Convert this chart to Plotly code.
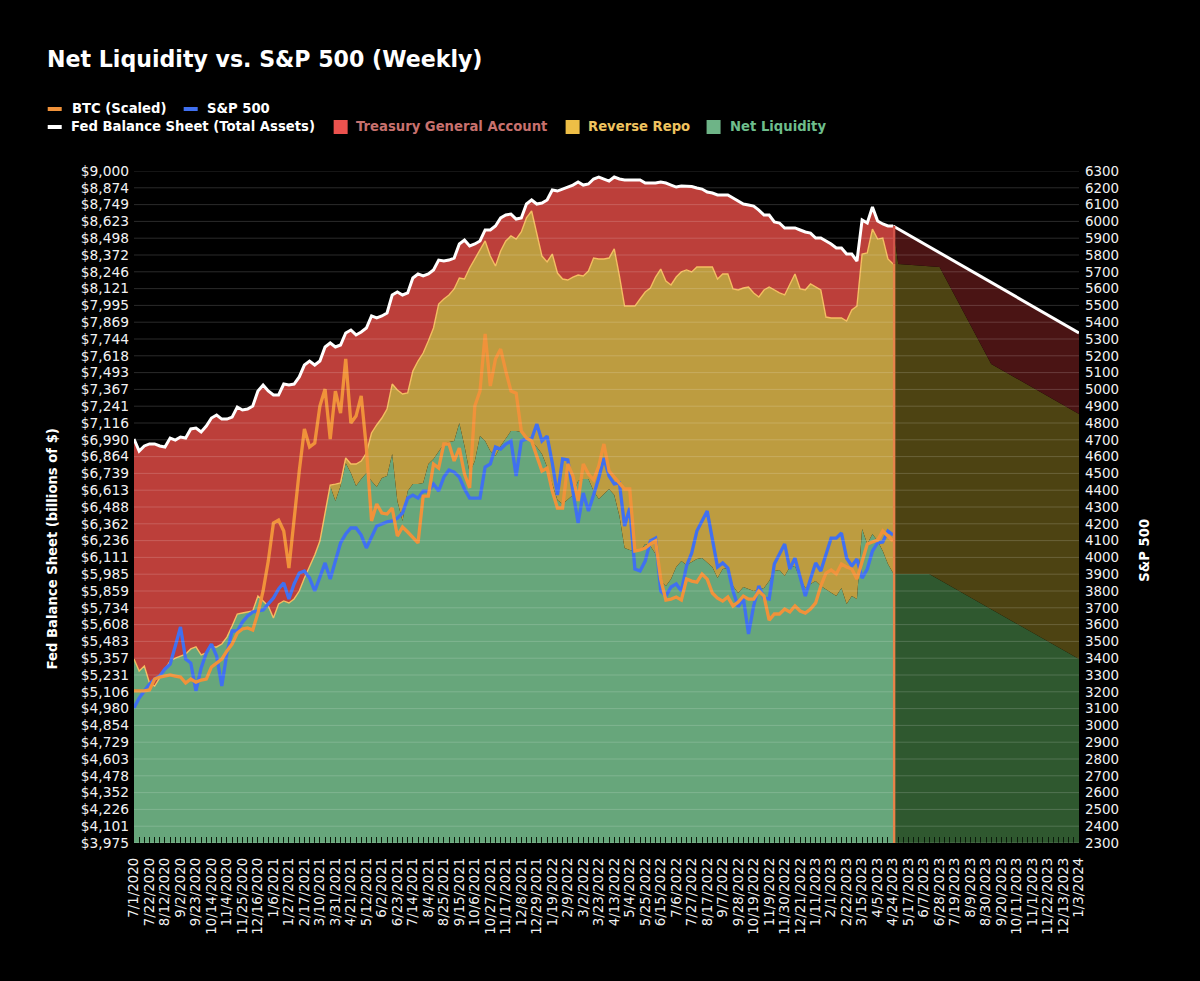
import datetime as dt
import plotly.graph_objects as go

# ---------------- data ----------------
start = dt.date(2020, 7, 1)
weeks = [start + dt.timedelta(days=7 * i) for i in range(184)]
categories = [f"{d.month}/{d.day}/{d.year}" for d in weeks]
categories[147] = "4/24/2023"

fed_assets = [
    6996,6906,6944,6959,6959,6944,6936,7003,6988,7011,
    7003,7071,7078,7048,7093,7153,7175,7145,7145,7160,
    7235,7213,7220,7243,7355,7400,7355,7325,7325,7407,
    7400,7407,7460,7549,7579,7549,7579,7684,7714,7684,
    7699,7789,7811,7774,7796,7826,7916,7901,7916,7938,
    8073,8095,8073,8088,8200,8230,8215,8230,8260,8334,
    8327,8334,8349,8454,8484,8439,8454,8477,8559,8559,
    8589,8649,8671,8678,8641,8649,8753,8783,8753,8761,
    8783,8858,8850,8865,8880,8895,8918,8895,8903,8940,
    8955,8940,8925,8955,8940,8933,8933,8933,8933,8910,
    8910,8910,8918,8910,8895,8880,8888,8888,8884,8873,
    8865,8843,8835,8821,8821,8821,8798,8776,8753,8746,
    8738,8708,8671,8671,8619,8611,8574,8574,8574,8559,
    8544,8536,8499,8499,8477,8454,8424,8424,8379,8379,
    8327,8634,8611,8731,8626,8604,8589,8589,
]
net_liquidity = [
    5351,5261,5299,5171,5149,5209,5276,5336,5358,5373,
    5388,5426,5441,5381,5396,5441,5441,5463,5515,5598,
    5687,5695,5702,5710,5822,5785,5747,5658,5762,5785,
    5770,5800,5859,5957,6046,6129,6233,6458,6645,6532,
    6645,6817,6742,6645,6697,6742,6682,6637,6704,6719,
    6884,6532,6383,6607,6660,6660,6667,6809,6847,6906,
    6959,6974,6981,7116,6944,6742,6832,7019,6981,6906,
    6869,6944,6996,7056,7056,7048,7011,6974,6936,6884,
    6787,6660,6540,6510,6547,6577,6682,6697,6697,6607,
    6547,6585,6622,6577,6420,6181,6166,6159,6159,6211,
    6196,6136,5934,5897,5949,6039,6084,6054,6076,6099,
    6106,6076,6039,5957,6024,6031,5897,5845,5889,5874,
    5859,5874,5882,5934,6009,6016,5972,6039,6046,5949,
    5882,5912,5934,5897,5874,5845,5822,5882,5762,5822,
    5800,6323,6211,6286,6233,6159,6061,5994,
]
# top edge of the Reverse Repo band (net liquidity + reverse repo)
rrp_top = net_liquidity[:38] + [
    6652,6659,
    6667,6854,6809,6809,6831,6891,7041,7101,7153,7220,
    7407,7362,7332,7340,7504,7579,7639,7729,7826,8005,
    8043,8073,8118,8200,8192,8275,8342,8402,8477,8364,
    8290,8402,8477,8514,8491,8544,8649,8701,8536,8364,
    8320,8379,8237,8192,8185,8207,8222,8215,8252,8349,
    8342,8342,8349,8417,8215,7990,7990,7990,8043,8095,
    8125,8207,8267,8177,8148,8207,8245,8260,8245,8282,
    8282,8282,8282,8192,8230,8230,8118,8110,8125,8133,
    8088,8058,8110,8133,8110,8088,8073,8148,8230,8118,
    8110,8155,8133,8110,7908,7901,7901,7901,7878,7961,
    7990,8379,8387,8566,8491,8499,8342,8305,
]
sp500 = [
    3104,3163,3205,3246,3276,3294,3336,3365,3473,3586,
    3395,3371,3205,3342,3431,3484,3413,3234,3431,3562,
    3562,3615,3651,3675,3681,3687,3723,3758,3812,3848,
    3752,3842,3907,3919,3877,3800,3883,3967,3871,3973,
    4086,4139,4175,4175,4133,4056,4121,4187,4199,4211,
    4217,4234,4264,4353,4371,4353,4395,4395,4437,4395,
    4478,4520,4508,4478,4407,4353,4353,4353,4538,4556,
    4657,4645,4675,4693,4484,4693,4705,4705,4794,4693,
    4722,4562,4371,4586,4580,4383,4205,4383,4276,4371,
    4472,4592,4484,4437,4443,4187,4294,3931,3919,3978,
    4098,4115,3800,3770,3824,3842,3800,3949,4026,4157,
    4217,4276,4109,3943,3967,3937,3800,3705,3758,3544,
    3711,3830,3758,3752,3961,4026,4080,3931,3996,3883,
    3770,3871,3967,3919,4020,4115,4115,4145,3996,3949,
    3990,3877,3931,4038,4086,4092,4157,4133,
]
btc_scaled = [
    3205,3205,3205,3211,3276,3288,3294,3300,3294,3288,
    3252,3276,3258,3270,3276,3348,3371,3395,3443,3484,
    3550,3574,3580,3568,3669,3800,3978,4205,4222,4157,
    3937,4246,4514,4764,4657,4681,4901,5002,4705,4990,
    4859,5181,4800,4841,4961,4651,4217,4318,4264,4258,
    4294,4127,4181,4151,4115,4086,4365,4365,4556,4532,
    4675,4675,4574,4651,4496,4413,4901,4990,5330,5020,
    5181,5240,5109,4990,4978,4752,4711,4693,4603,4514,
    4532,4395,4294,4294,4556,4484,4336,4556,4496,4461,
    4544,4675,4514,4478,4443,4407,4407,4038,4044,4056,
    4080,4098,3871,3746,3752,3764,3746,3871,3859,3853,
    3901,3871,3788,3758,3740,3764,3711,3734,3770,3752,
    3752,3800,3770,3627,3663,3663,3693,3675,3711,3681,
    3669,3693,3729,3830,3907,3925,3901,3961,3943,3931,
    3871,3978,4080,4092,4103,4157,4127,4098,
]
# forecast section, only at the weeks where the outline bends
fc_fed_weeks = ["4/24/2023", "1/3/2024"]
fc_fed = [8589, 7789]
fc_rrp_weeks = ["4/24/2023", "5/3/2023", "6/28/2023", "9/6/2023", "1/3/2024"]
fc_rrp_top = [8589, 8305, 8282, 7557, 7183]
fc_net_weeks = ["4/24/2023", "6/14/2023", "1/3/2024"]
fc_net = [5986, 5986, 5350]

left_ticks = [9000,8874,8749,8623,8498,8372,8246,8121,7995,7869,7744,7618,7493,7367,
              7241,7116,6990,6864,6739,6613,6488,6362,6236,6111,5985,5859,5734,5608,
              5483,5357,5231,5106,4980,4854,4729,4603,4478,4352,4226,4101,3975]
right_ticks = list(range(2300, 6301, 100))

title_text = "Net Liquidity vs. S&P 500 (Weekly)"
line_legend = [("BTC (Scaled)", "#F0923A", 48, 109, 70), ("S&P 500", "#4070F0", 184, 109, 205),
               ("Fed Balance Sheet (Total Assets)", "#FFFFFF", 48, 127, 69)]
box_legend = [("Treasury General Account", "#EC524E", "#C8716E", 334, 354),
              ("Reverse Repo", "#EEBE46", "#F0C35F", 566, 586),
              ("Net Liquidity", "#6EB487", "#6EBE8C", 707, 728)]

# ---------------- layout constants ----------------
L, R, T, B = 134.3, 1079.5, 171.0, 842.7
W, H = 1200, 981
FONT = "DejaVu Sans"
LABEL_SIZE = 13.2
px = lambda x: (x - L) / (R - L)
py = lambda y: (B - y) / (B - T)

fig = go.Figure()
actual = categories[:148]

def band(x, y, fill, color, name, line=None):
    fig.add_trace(go.Scatter(
        x=x, y=y, name=name, mode="lines", fill=fill, fillcolor=color,
        line=line or dict(width=0), showlegend=False, hoverinfo="skip",
    ))

# forecast
band(fc_net_weeks, fc_net, "tozeroy", "#2F582F", "Net Liquidity (forecast)")
band(fc_rrp_weeks, fc_rrp_top, "tonexty", "#4D4312", "Reverse Repo (forecast)")
band(fc_fed_weeks, fc_fed, "tonexty", "#4A1414", "Fed Balance Sheet (forecast)",
     dict(color="#FFFFFF", width=3))
# actual
band(actual, net_liquidity, "tozeroy", "#67A67B", "Net Liquidity")
band(actual, rrp_top, "tonexty", "#BD9C40", "Reverse Repo", dict(color="#F5BE62", width=1.4))
band(actual, fed_assets, "tonexty", "#BC3F3A", "Fed Balance Sheet (Total Assets)",
     dict(color="#FFFFFF", width=3))

fig.add_trace(go.Scatter(x=actual, y=sp500, name="S&P 500", yaxis="y2", mode="lines",
                         line=dict(color="#4070F0", width=3.3), showlegend=False))
fig.add_trace(go.Scatter(x=actual, y=btc_scaled, name="BTC (Scaled)", yaxis="y2", mode="lines",
                         line=dict(color="#F0923A", width=3.3), showlegend=False))

shapes = []
# horizontal grid over the bands
for v in right_ticks:
    shapes.append(dict(type="line", xref="paper", x0=0, x1=1, yref="y2", y0=v, y1=v,
                       line=dict(color="rgba(255,255,255,0.17)", width=1), layer="above"))
# edge between the actual and forecast sections
shapes.append(dict(type="line", xref="x", x0=147.2, x1=147.2, yref="y",
                   y0=3975, y1=8305, line=dict(color="#E8834A", width=2.4), layer="above"))
shapes.append(dict(type="line", xref="x", x0=147.2, x1=147.2, yref="y",
                   y0=8305, y1=8589, line=dict(color="#D2554A", width=2.4), layer="above"))

annotations = []
def legend_text(text, x, y, color):
    annotations.append(dict(text=text, xref="paper", yref="paper", x=px(x), y=py(y),
                            xanchor="left", yanchor="middle", showarrow=False,
                            font=dict(family=FONT, size=LABEL_SIZE, color=color, weight="bold")))

for name, color, x, y, tx in line_legend:
    shapes.append(dict(type="rect", xref="paper", yref="paper", x0=px(x), x1=px(x + 14),
                       y0=py(y - 2), y1=py(y + 2), fillcolor=color, line=dict(width=0)))
    legend_text(name, tx, y, "#FFFFFF")
for name, color, text_color, x, tx in box_legend:
    shapes.append(dict(type="rect", xref="paper", yref="paper", x0=px(x), x1=px(x + 14),
                       y0=py(120), y1=py(134), fillcolor=color, line=dict(width=0)))
    legend_text(name, tx, 127, text_color)

annotations.append(dict(text="Fed Balance Sheet (billions of $)", xref="paper", yref="paper",
                        x=px(52.5), y=py(549), textangle=-90, showarrow=False,
                        xanchor="center", yanchor="middle",
                        font=dict(family=FONT, size=LABEL_SIZE, color="#FFFFFF", weight="bold")))
annotations.append(dict(text="S&P 500", xref="paper", yref="paper",
                        x=px(1145), y=py(550), textangle=-90, showarrow=False,
                        xanchor="center", yanchor="middle",
                        font=dict(family=FONT, size=LABEL_SIZE, color="#FFFFFF", weight="bold")))

x_font = dict(family=FONT, size=13.4, color="#F2F2F2")
left_font = dict(family=FONT, size=13.8, color="#F2F2F2")
right_font = dict(family=FONT, size=13.4, color="#F2F2F2")
fig.update_layout(
    width=W, height=H, autosize=False,
    paper_bgcolor="#000000", plot_bgcolor="#000000",
    margin=dict(l=L, r=W - R, t=T, b=H - B, pad=0),
    showlegend=False,
    title=dict(text=title_text, x=47 / W, xanchor="left", y=1 - 59 / H, yanchor="middle",
               font=dict(family=FONT, size=22.1, color="#FFFFFF", weight="bold")),
    xaxis=dict(type="category", categoryorder="array", categoryarray=categories,
               range=[0, 183], tickmode="array", tickvals=categories,
               ticktext=[c if i % 3 == 0 else "" for i, c in enumerate(categories)],
               tickangle=-90, tickfont=x_font, ticks="inside", ticklen=6,
               tickwidth=1, tickcolor="#0A1A0A", showgrid=False, zeroline=False,
               showline=False, ticklabelstandoff=11),
    yaxis=dict(range=[3975, 9000], tickmode="array", tickvals=left_ticks,
               tickformat="$,d", tickfont=left_font, showgrid=False, zeroline=False,
               showline=False, ticks="", ticklabelstandoff=4),
    yaxis2=dict(range=[2300, 6300], overlaying="y", side="right", tickmode="array",
                tickvals=right_ticks, tickfont=right_font, showgrid=False, zeroline=False,
                showline=False, ticks="", ticklabelstandoff=5),
    shapes=shapes, annotations=annotations,
)

fig.write_html("out.html", post_script="document.body.style.margin='0';",
               config=dict(displayModeBar=False))
